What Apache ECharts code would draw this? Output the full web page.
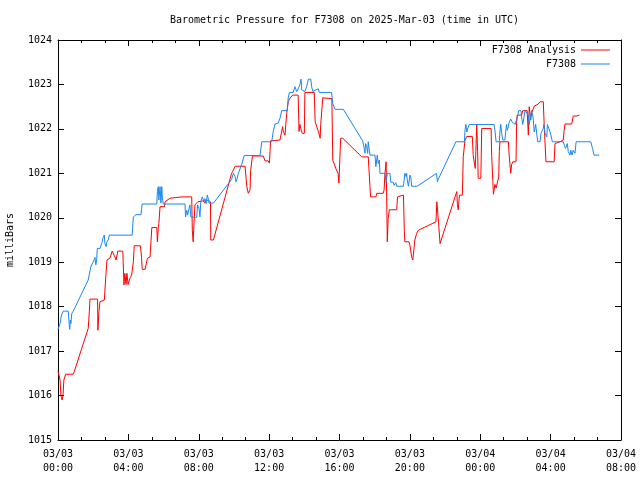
<!DOCTYPE html>
<html>
<head>
<meta charset="utf-8">
<script src="https://cdn.jsdelivr.net/npm/echarts@6/dist/echarts.min.js"></script>
<style>html,body{margin:0;padding:0;background:#fff}#c{width:640px;height:480px}</style>
</head>
<body>
<div id="c"></div>
<script>
// Times are minutes after 2025-03-03 00:00 UTC
const startUTC = Date.UTC(2025, 2, 3, 0, 0);
const endUTC = Date.UTC(2025, 2, 4, 8, 0);
const titleText = 'Barometric Pressure for F7308 on 2025-Mar-03 (time in UTC)';
const yName = 'milliBars';
const seriesNames = ['F7308 Analysis', 'F7308'];

const analysisMinutes = [0,7,10,14,17,20,26,52,56,103,107,109,135,136,140,143,158,163,167,177,185,194,198,204,221,223,225,228,232,235,239,246,251,257,260,281,285,287,297,305,314,317,320,337,339,342,344,348,363,365,382,423,456,458,461,464,467,477,494,501,509,520,521,530,592,598,604,638,644,649,655,657,663,700,706,717,721,723,725,757,766,768,774,778,780,785,791,800,819,822,825,829,833,840,842,874,877,888,894,896,903,934,937,948,955,958,961,964,971,1036,1058,1064,1066,1084,1087,1109,1112,1115,1119,1121,1123,1126,1130,1155,1158,1163,1178,1181,1183,1197,1200,1206,1210,1215,1217,1223,1229,1289,1292,1297,1303,1360,1362,1365,1369,1379,1382,1388,1394,1413,1416,1420,1423,1425,1428,1431,1433,1442,1445,1477,1479,1485,1490,1494,1500,1503,1505,1507,1536,1539,1544,1547,1551,1562,1564,1566,1581,1585,1600,1604,1607,1610,1612,1615,1621,1624,1630,1638,1644,1655,1658,1664,1692,1695,1701,1712,1718,1723,1726,1729,1752,1757,1769,1778];
const analysisValues = [1016.55,1016.35,1016.0,1015.9,1016.0,1016.35,1016.48,1016.48,1016.55,1017.51,1017.9,1018.17,1018.17,1017.47,1017.92,1018.11,1018.15,1018.67,1019.05,1019.09,1019.25,1019.12,1019.05,1019.25,1019.25,1018.87,1018.49,1018.75,1018.5,1018.75,1018.5,1018.65,1018.71,1019.01,1019.37,1019.37,1019.11,1018.84,1018.84,1019.09,1019.12,1019.46,1019.78,1019.78,1019.46,1019.78,1019.87,1020.25,1020.25,1020.36,1020.44,1020.47,1020.47,1019.72,1019.46,1019.9,1020.29,1020.36,1020.38,1020.33,1020.4,1020.36,1019.5,1019.5,1021.0,1021.07,1021.16,1021.16,1020.70,1020.55,1020.63,1021.07,1021.39,1021.39,1021.28,1021.28,1021.23,1021.49,1021.73,1021.75,1022.05,1021.95,1021.86,1021.82,1022.35,1022.61,1022.69,1022.76,1022.76,1021.94,1022.1,1021.98,1021.9,1021.9,1022.82,1022.82,1022.16,1021.94,1021.79,1022.1,1022.70,1022.68,1021.3,1021.1,1021.0,1020.78,1021.3,1021.79,1021.79,1021.37,1021.37,1020.70,1020.47,1020.47,1020.55,1020.55,1020.62,1021.0,1021.26,1020.4,1019.46,1019.99,1020.18,1020.18,1020.47,1020.51,1020.51,1019.72,1019.46,1019.46,1019.39,1019.12,1019.05,1019.05,1019.5,1019.65,1019.72,1019.91,1020.36,1019.95,1019.42,1020.59,1020.3,1020.18,1020.51,1020.51,1021.37,1021.75,1021.83,1021.83,1021.4,1021.23,1021.11,1021.5,1022.09,1021.5,1020.89,1020.89,1022.01,1022.01,1021.4,1020.53,1020.75,1020.67,1020.67,1020.92,1021.49,1021.71,1021.71,1021.37,1021.0,1021.2,1021.26,1021.26,1022.13,1022.31,1022.31,1022.41,1022.41,1021.86,1022.5,1022.5,1022.2,1022.35,1022.35,1022.51,1022.54,1022.56,1022.61,1022.61,1022.1,1021.26,1021.26,1021.67,1021.69,1021.71,1021.75,1021.75,1021.96,1022.11,1022.11,1022.29,1022.29,1022.31];

const stationMinutes = [0,7,11,18,35,38,40,42,44,47,52,56,60,103,109,112,117,123,126,129,132,134,143,147,150,154,158,160,164,166,172,175,253,257,263,266,283,285,287,337,339,342,344,348,351,354,356,359,433,435,439,442,447,450,453,456,473,476,481,484,487,490,492,496,498,501,505,509,513,515,530,592,598,604,607,611,615,621,626,632,635,689,691,695,729,734,740,751,757,763,782,785,789,802,808,814,819,825,829,831,837,842,848,854,862,865,869,873,877,882,888,891,933,937,945,973,1039,1041,1045,1047,1049,1053,1056,1058,1062,1064,1081,1084,1089,1092,1096,1098,1115,1119,1123,1132,1135,1143,1146,1152,1155,1178,1183,1187,1189,1191,1195,1198,1200,1204,1206,1225,1291,1294,1297,1357,1386,1388,1391,1394,1397,1399,1403,1487,1490,1494,1505,1507,1510,1513,1517,1524,1528,1530,1532,1536,1539,1544,1548,1553,1559,1564,1568,1571,1579,1581,1585,1589,1593,1598,1604,1607,1612,1615,1619,1621,1624,1629,1632,1636,1644,1647,1652,1655,1657,1661,1664,1667,1669,1675,1678,1681,1686,1723,1727,1731,1735,1737,1740,1744,1746,1749,1753,1757,1763,1767,1817,1820,1823,1828,1846];
const stationValues = [1017.49,1017.62,1017.79,1017.9,1017.9,1017.62,1017.49,1017.7,1017.62,1017.85,1017.9,1017.95,1018.01,1018.6,1018.62,1018.9,1018.93,1019.05,1019.11,1018.94,1019.07,1019.31,1019.31,1019.35,1019.44,1019.56,1019.61,1019.42,1019.35,1019.44,1019.52,1019.61,1019.61,1020.02,1020.02,1020.07,1020.07,1020.2,1020.31,1020.31,1020.59,1020.7,1020.4,1020.7,1020.33,1020.7,1020.45,1020.31,1020.31,1020.02,1020.17,1020.06,1020.21,1020.29,1020.02,1020.01,1020.01,1020.29,1020.21,1020.02,1020.36,1020.4,1020.47,1020.51,1020.36,1020.43,1020.32,1020.51,1020.42,1020.33,1020.33,1020.86,1021.0,1020.93,1020.81,1020.88,1021.0,1021.04,1021.19,1021.19,1021.4,1021.4,1021.52,1021.71,1021.71,1021.94,1022.11,1022.13,1022.24,1022.41,1022.41,1022.69,1022.82,1022.82,1022.95,1022.84,1022.9,1023.0,1023.12,1022.88,1022.84,1022.84,1022.95,1023.12,1023.12,1022.95,1022.84,1022.82,1022.87,1022.84,1022.9,1022.82,1022.82,1022.57,1022.44,1022.44,1021.73,1021.73,1021.54,1021.45,1021.67,1021.6,1021.45,1021.71,1021.5,1021.41,1021.41,1021.15,1021.41,1021.22,1021.3,1021.0,1021.0,1020.8,1021.0,1021.0,1020.8,1020.8,1020.73,1020.79,1020.71,1020.71,1021.0,1020.93,1021.0,1020.85,1020.71,1020.85,1020.96,1020.88,1020.71,1020.71,1021.0,1020.81,1020.87,1021.71,1021.71,1021.97,1022.1,1021.93,1022.0,1021.97,1022.1,1022.1,1021.97,1021.71,1021.71,1021.93,1022.1,1021.9,1021.75,1021.75,1022.01,1022.1,1021.97,1022.05,1022.16,1022.22,1022.16,1022.16,1022.1,1022.1,1022.31,1022.41,1022.41,1022.27,1022.1,1022.1,1022.41,1022.41,1022.31,1022.1,1022.1,1022.41,1022.31,1022.2,1021.93,1022.1,1021.93,1021.71,1021.71,1021.9,1021.93,1022.01,1022.1,1021.9,1021.93,1021.82,1022.1,1022.1,1021.93,1021.86,1021.71,1021.71,1021.63,1021.56,1021.56,1021.67,1021.49,1021.52,1021.41,1021.52,1021.41,1021.52,1021.45,1021.71,1021.71,1021.63,1021.56,1021.41,1021.41];

const yMin = 1015, yMax = 1024, yStep = 1;
const xStepHours = 4;

function pairs(mins, vals) {
  return mins.map((m, i) => [startUTC + m * 60000, vals[i]]);
}
function pad(n) { return (n < 10 ? '0' : '') + n; }

const font = '"DejaVu Sans Mono", "Liberation Mono", monospace';
const chart = echarts.init(document.getElementById('c'), null, {renderer: 'canvas'});

const xBase = {
  type: 'value', min: startUTC, max: endUTC, interval: xStepHours * 3600000,
  axisLine: {show: true, onZero: false, lineStyle: {color: '#000', width: 1}},
  axisTick: {show: true, inside: true, length: 6, lineStyle: {color: '#000'}},
  minorTick: {show: true, splitNumber: 3, length: 3, lineStyle: {color: '#000'}},
  splitLine: {show: false}
};
const yBase = {
  type: 'value', min: yMin, max: yMax, interval: yStep,
  axisLine: {show: true, onZero: false, lineStyle: {color: '#000', width: 1}},
  axisTick: {show: true, inside: true, length: 6, lineStyle: {color: '#000'}},
  splitLine: {show: false}
};

chart.setOption({
  animation: false,
  backgroundColor: '#fff',
  title: {
    text: titleText, left: 339.5, top: 10, textAlign: 'center',
    textStyle: {fontFamily: font, fontSize: 10, fontWeight: 'normal', color: '#000'}
  },
  legend: {
    orient: 'vertical', right: 30, top: 45, align: 'right', padding: 0,
    icon: 'rect', itemWidth: 29, itemHeight: 1, itemGap: 4,
    textStyle: {fontFamily: font, fontSize: 10, color: '#000'},
    data: seriesNames
  },
  grid: {left: 58, right: 19, top: 40, bottom: 40, containLabel: false, outerBoundsMode: 'none'},
  xAxis: [
    Object.assign({}, xBase, {
      position: 'bottom',
      axisLabel: {
        show: true, showMaxLabel: true, showMinLabel: true, margin: 7,
        fontFamily: font, fontSize: 10, color: '#000', lineHeight: 14,
        formatter: function (v) {
          const d = new Date(v);
          return pad(d.getUTCMonth() + 1) + '/' + pad(d.getUTCDate()) + '\n' +
                 pad(d.getUTCHours()) + ':' + pad(d.getUTCMinutes());
        }
      }
    }),
    Object.assign({}, xBase, {position: 'top', axisLabel: {show: false}})
  ],
  yAxis: [
    Object.assign({}, yBase, {
      position: 'left',
      name: yName, nameLocation: 'middle', nameRotate: 90, nameGap: 43,
      nameTextStyle: {fontFamily: font, fontSize: 10, color: '#000'},
      axisLabel: {margin: 6, fontFamily: font, fontSize: 10, color: '#000',
        formatter: function (v) { return String(v); }}
    }),
    Object.assign({}, yBase, {position: 'right', axisLabel: {show: false}})
  ],
  series: [
    {
      name: seriesNames[0], type: 'line', xAxisIndex: 0, yAxisIndex: 0,
      data: pairs(analysisMinutes, analysisValues),
      symbol: 'none', showSymbol: false,
      lineStyle: {color: '#ff0000', width: 1}, itemStyle: {color: '#ff0000'}
    },
    {
      name: seriesNames[1], type: 'line', xAxisIndex: 0, yAxisIndex: 0,
      data: pairs(stationMinutes, stationValues),
      symbol: 'none', showSymbol: false,
      lineStyle: {color: '#1a87f0', width: 1}, itemStyle: {color: '#1a87f0'}
    }
  ]
});
</script>
</body>
</html>
